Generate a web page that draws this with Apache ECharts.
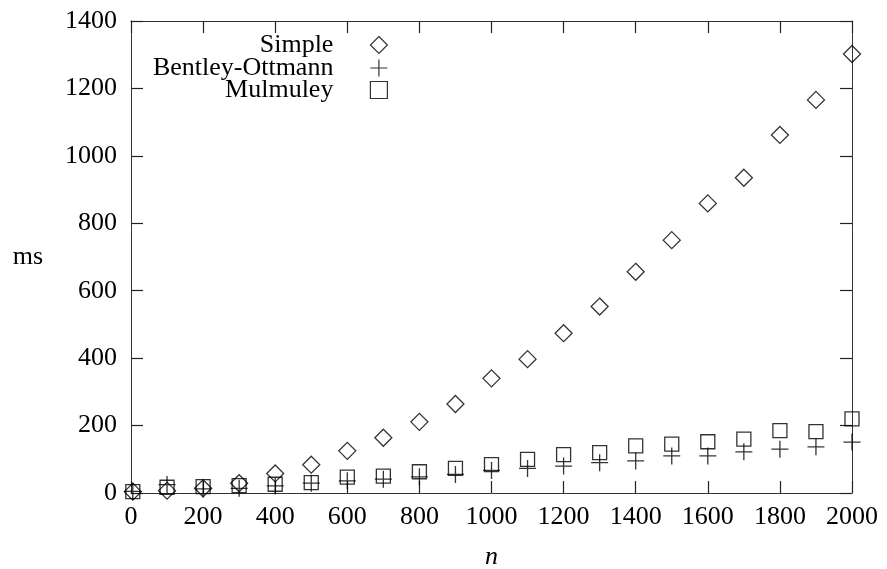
<!DOCTYPE html>
<html>
    <head>
        <meta charset="utf-8">
        <title>Simple vs Bentley-Ottmann vs Mulmuley</title>
    </head>
<script src="https://cdn.jsdelivr.net/npm/echarts@6/dist/echarts.min.js"></script>
<body style="margin:0;background:white;">
    <div id="main" style="width:887px;height:569px;"></div>
<script type="text/javascript">
    // n values (x axis)
    var nValues = [5, 100, 200, 300, 400, 500, 600, 700, 800, 900, 1000,
                   1100, 1200, 1300, 1400, 1500, 1600, 1700, 1800, 1900, 2000];
    // ms per algorithm
    var simple = [4, 7, 14, 29, 58, 84, 125, 164, 211, 264, 340,
                  397, 474, 553, 656, 750, 859, 935, 1062, 1166, 1302];
    var bentley = [5, 25, 12, 14, 21, 29, 36, 41, 48, 55, 67,
                   73, 80, 90, 95, 110, 110, 122, 130, 137, 151];
    var mulmuley = [4, 17, 19, 22, 26, 31, 47, 50, 63, 73, 84,
                    100, 114, 120, 140, 145, 152, 160, 185, 182, 220];
    var seriesNames = ['Simple', 'Bentley-Ottmann', 'Mulmuley'];

    function pairs(ys) {
        var out = [];
        for(var i = 0; i < nValues.length; ++i) {
            out.push([nValues[i], ys[i]]);
        }
        return out;
    }

    var font = 'Liberation Serif';
    var plus = 'path://M0,50 L100,50 M50,0 L50,100';
    var plain = function (v) { return String(v); };

    function markStyle() {
        return {color: 'transparent', borderColor: '#000', borderWidth: 1.3};
    }

    // box axis: inside ticks on every side, labels only bottom/left
    function boxAxis(pos, max, labels, onZero) {
        return {
            type: 'value', position: pos, min: 0, max: max, interval: 200,
            axisLine: {show: true, onZero: onZero, lineStyle: {color: '#333', width: 1}},
            axisTick: {show: true, inside: true, length: 12, lineStyle: {color: '#222', width: 1.2}},
            splitLine: {show: false},
            axisLabel: {show: labels, fontFamily: font, fontSize: 26, color: '#000', formatter: plain}
        };
    }

    function legendFor(name, top) {
        return {
            data: [name],
            orient: 'vertical',
            align: 'right',
            right: 499,
            top: top,
            padding: 0,
            itemWidth: 17,
            itemHeight: 17,
            itemStyle: {borderWidth: 1.2},
            textStyle: {fontFamily: font, fontSize: 26, color: '#000', padding: [0, 32, 0, 0]}
        };
    }

    var xBottom = boxAxis('bottom', 2000, true, false);
    xBottom.name = 'n';
    xBottom.nameLocation = 'middle';
    xBottom.nameGap = 51;
    xBottom.nameTextStyle = {fontFamily: font, fontSize: 26, fontStyle: 'italic', color: '#000'};
    xBottom.axisLabel.margin = 11;

    // labelled left axis: labels and name only
    var yLeft = boxAxis('left', 1400, true, true);
    yLeft.axisTick = {show: false};
    yLeft.name = 'ms';
    yLeft.nameLocation = 'middle';
    yLeft.nameGap = 88;
    yLeft.nameRotate = 0;
    yLeft.nameTextStyle = {fontFamily: font, fontSize: 26, color: '#000'};
    yLeft.axisLabel.margin = 14;

    // plain left axis carrying the inward ticks
    var yLeftTicks = {
        type: 'value', position: 'left', min: 0, max: 1400, interval: 200,
        axisLine: {show: true, lineStyle: {color: '#333', width: 1}},
        axisTick: {show: true, inside: true, length: 12, lineStyle: {color: '#222', width: 1.2}},
        axisLabel: {show: false},
        splitLine: {show: false}
    };

    var myChart = echarts.init(document.getElementById('main'));
    myChart.setOption({
        animation: false,
        grid: {left: 131, right: 35, top: 21, bottom: 76, outerBoundsMode: 'none'},
        legend: [legendFor(seriesNames[0], 32), legendFor(seriesNames[1], 55), legendFor(seriesNames[2], 77)],
        xAxis: [xBottom, boxAxis('top', 2000, false, false)],
        yAxis: [yLeft, boxAxis('right', 1400, false, false), yLeftTicks],
        series: [{
            name: seriesNames[0], type: 'scatter', data: pairs(simple),
            symbol: 'diamond', symbolSize: 17, itemStyle: markStyle()
        }, {
            name: seriesNames[1], type: 'scatter', data: pairs(bentley),
            symbol: plus, symbolSize: 17, itemStyle: markStyle()
        }, {
            name: seriesNames[2], type: 'scatter', data: pairs(mulmuley),
            symbol: 'rect', symbolSize: 14, itemStyle: markStyle()
        }]
    });
</script>
</body>
</html>
